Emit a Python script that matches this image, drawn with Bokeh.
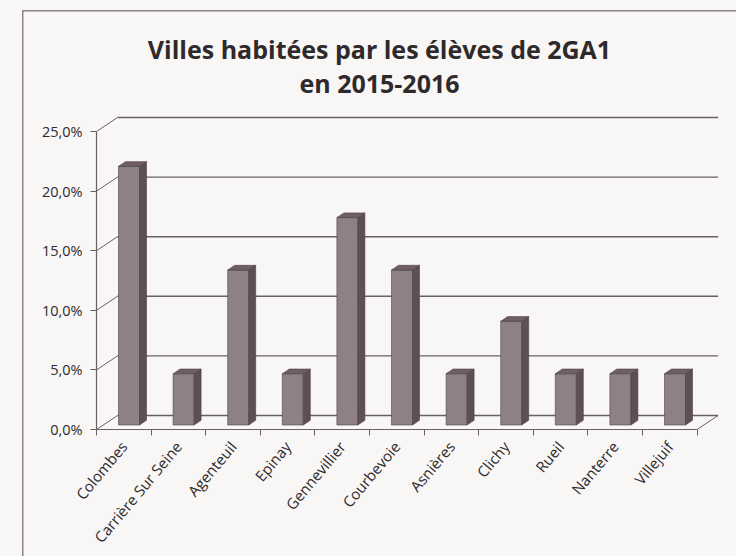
import math
from bokeh.plotting import figure
from bokeh.models import FixedTicker, Range1d, InlineStyleSheet
from bokeh.core.properties import value
from bokeh.embed import file_html
from bokeh.resources import INLINE

cities = ["Colombes", "Carrière Sur Seine", "Agenteuil", "Epinay", "Gennevillier",
          "Courbevoie", "Asnières", "Clichy", "Rueil", "Nanterre", "Villejuif"]
shares = [21.7, 4.3, 13.0, 4.3, 17.4, 13.0, 4.3, 8.7, 4.3, 4.3, 4.3]
y_ticks = [0, 5, 10, 15, 20, 25]
y_tick_labels = ["0,0%", "5,0%", "10,0%", "15,0%", "20,0%", "25,0%"]
title_lines = ["Villes habitées par les élèves de 2GA1", "en 2015-2016"]

FONT = "Open Sans"
BG = "#f9f6f6"
INK = "#2e2a2b"
GRID = "#666263"
BORDER = "#8a8687"

W, H = 736, 556
b_left, b_right, b_top, b_bottom = 96, 16, 0, 127
frame_w = W - b_left - b_right
frame_h = H - b_top - b_bottom
px_x = 54.6
px_y = 11.92
x_start = -0.5
x_end = x_start + frame_w / px_x
y_end = frame_h / px_y

def sx_to_x(px):
    return x_start + (px - b_left) / px_x

def sy_to_y(py):
    return (H - b_bottom - py) / px_y

# 3D depth (pixel offsets converted to data units)
dxB, dyB = 21 / px_x, 14 / px_y          # back wall offset
dxF, dyF = 6.7 / px_x, 4.5 / px_y        # bar front plane offset
dxD, dyD = 7 / px_x, 4.7 / px_y          # bar depth
bar_l = -0.5 + 22 / px_x
bar_r = -0.5 + 43 / px_x

n = len(cities)
xs = list(range(n))

p = figure(width=W, height=H, x_range=Range1d(x_start, x_end), y_range=Range1d(0, y_end),
           output_backend="svg", toolbar_location=None,
           min_border_left=b_left, min_border_right=b_right,
           min_border_top=b_top, min_border_bottom=b_bottom)
p.title = None
p.background_fill_color = None
p.border_fill_color = None
p.outline_line_color = None
p.xgrid.visible = False
p.ygrid.visible = False

# page background and the chart's outer border (left and top edges visible)
css = (":host { background: "
       f"linear-gradient({BORDER},{BORDER}) 22px 10px / 1.5px 600px no-repeat, "
       f"linear-gradient({BORDER},{BORDER}) 22px 10px / 760px 1.5px no-repeat, "
       f"{BG}; }}")
p.stylesheets = [InlineStyleSheet(css=css)]

# title (two centred lines)
p.text(x=[sx_to_x(379)] * 2, y=[sy_to_y(48), sy_to_y(82)], text=title_lines,
       text_font=value(FONT), text_font_size="25px", text_font_style="bold",
       text_color=INK, text_align="center", text_baseline="alphabetic")

# back wall gridlines
p.segment(x0=[x_start + dxB] * len(y_ticks), y0=[t + dyB for t in y_ticks],
          x1=[n - 0.5 + dxB] * len(y_ticks), y1=[t + dyB for t in y_ticks],
          line_color=GRID, line_width=1.4)
# left wall diagonals
p.segment(x0=[x_start] * len(y_ticks), y0=y_ticks,
          x1=[x_start + dxB] * len(y_ticks), y1=[t + dyB for t in y_ticks],
          line_color=GRID, line_width=1.0)
# floor right edge
p.segment(x0=[n - 0.5], y0=[0], x1=[n - 0.5 + dxB], y1=[dyB], line_color=GRID, line_width=1.0)

# bars (front, side, top faces)
fl = [i + bar_l for i in xs]
fr = [i + bar_r for i in xs]
fb = [dyF] * n
ft = [v + dyF for v in shares]
p.quad(left=fl, right=fr, bottom=fb, top=ft, fill_color="#8d8185",
       line_color="#4d4046", line_width=0.6)
side_xs = [[r, r + dxD, r + dxD, r] for r in fr]
side_ys = [[b, b + dyD, t + dyD, t] for b, t in zip(fb, ft)]
p.patches(side_xs, side_ys, fill_color="#5e4f55", line_color="#4d4046", line_width=0.6)
top_xs = [[l, r, r + dxD, l + dxD] for l, r in zip(fl, fr)]
top_ys = [[t, t, t + dyD, t + dyD] for t in ft]
p.patches(top_xs, top_ys, fill_color="#6f5f65", line_color="#4d4046", line_width=0.6)

# y axis
ya = p.yaxis[0]
ya.ticker = FixedTicker(ticks=y_ticks, minor_ticks=[])
ya.major_label_overrides = {t: s for t, s in zip(y_ticks, y_tick_labels)}
ya.bounds = (y_ticks[0], y_ticks[-1])
ya.axis_line_color = GRID
ya.axis_line_width = 1.2
ya.major_tick_line_color = GRID
ya.major_tick_out = 6
ya.major_tick_in = 0
ya.major_label_standoff = 8
ya.major_label_text_font = FONT
ya.major_label_text_font_size = "14.5px"
ya.major_label_text_color = INK

# x axis
xa = p.xaxis[0]
xa.ticker = FixedTicker(ticks=xs, minor_ticks=[i - 0.5 for i in range(n + 1)])
xa.major_label_overrides = {i: c for i, c in zip(xs, cities)}
xa.bounds = (-0.5, n - 0.5)
xa.axis_line_color = GRID
xa.axis_line_width = 1.2
xa.major_tick_out = 0
xa.major_tick_in = 0
xa.minor_tick_out = 6
xa.minor_tick_in = 0
xa.minor_tick_line_color = GRID
xa.major_label_orientation = math.radians(50)
xa.major_label_standoff = 8
xa.major_label_text_font = FONT
xa.major_label_text_font_size = "15px"
xa.major_label_text_color = INK

open("out.html", "w").write(file_html(p, INLINE))
